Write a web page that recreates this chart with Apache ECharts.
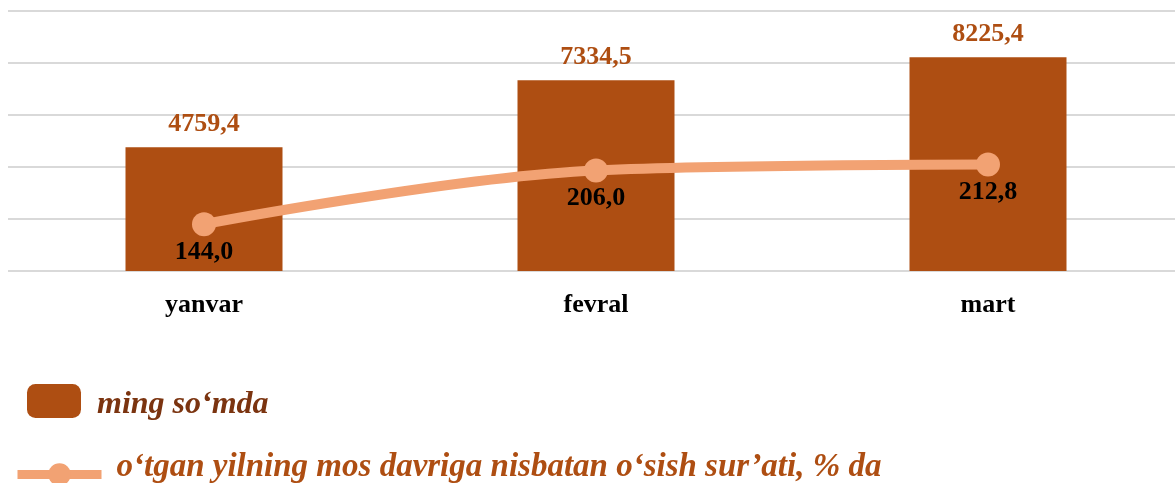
<!DOCTYPE html>
<html>
<head>
<meta charset="utf-8">
<script src="https://cdn.jsdelivr.net/npm/echarts@6/dist/echarts.min.js"></script>
<style>
html, body { margin: 0; padding: 0; background: #fff; overflow: hidden; }
#chart { width: 1184px; height: 483px; }
</style>
</head>
<body>
<div id="chart"></div>
<script>
var months = ['yanvar', 'fevral', 'mart'];
var amount = [4759.4, 7334.5, 8225.4];
var growth = [144.0, 206.0, 212.8];
var barName = 'ming so‘mda';
var lineName = 'o‘tgan yilning mos davriga nisbatan o‘sish sur’ati, % da';

function comma(v) {
	return v.toFixed(1).replace('.', ',');
}

var legendFont = {
	fontFamily: 'Liberation Serif',
	fontStyle: 'italic',
	fontWeight: 'bold'
};

var chart = echarts.init(document.getElementById('chart'));
var option = {
	animation: false,
	grid: {
		left: 8,
		top: 11,
		right: 0,
		height: 260
	},
	legend: [{
		data: [barName],
		left: 27,
		top: 384,
		padding: 0,
		itemWidth: 54,
		itemHeight: 34,
		icon: 'roundRect',
		formatter: '{t|{name}}',
		textStyle: {
			rich: {
				t: Object.assign({ fontSize: 32, color: '#7B3410', padding: [7, 0, 0, 11] }, legendFont)
			}
		}
	}, {
		data: [lineName],
		left: 13,
		top: 451,
		padding: 0,
		itemWidth: 84,
		itemHeight: 28,
		lineStyle: { width: 9 },
		formatter: '{t|{name}}',
		textStyle: {
			rich: {
				t: Object.assign({ fontSize: 33, color: '#AE4E12', padding: [0, 0, 14, 10] }, legendFont)
			}
		}
	}],
	xAxis: {
		type: 'category',
		data: months,
		axisLine: { show: false },
		axisTick: { show: false },
		axisLabel: {
			margin: 21,
			fontFamily: 'Liberation Serif',
			fontWeight: 'bold',
			fontSize: 26,
			color: '#000'
		}
	},
	yAxis: [{
		type: 'value',
		min: 0,
		max: 10000,
		interval: 2000,
		axisLabel: { show: false },
		axisLine: { show: false },
		axisTick: { show: false },
		splitLine: { lineStyle: { color: '#D9D9D9', width: 2 } }
	}, {
		type: 'value',
		min: 90,
		max: 390,
		show: false,
		splitLine: { show: false }
	}],
	series: [{
		name: barName,
		type: 'bar',
		data: amount,
		barWidth: 157,
		itemStyle: { color: '#AE4E12' },
		label: {
			show: true,
			position: 'top',
			distance: 10,
			formatter: function (p) { return comma(p.value); },
			fontFamily: 'Liberation Serif',
			fontWeight: 'bold',
			fontSize: 26,
			color: '#AE4E12'
		}
	}, {
		name: lineName,
		type: 'line',
		yAxisIndex: 1,
		data: growth,
		smooth: 0.35,
		symbol: 'circle',
		symbolSize: 24,
		itemStyle: { color: '#F2A273' },
		lineStyle: { color: '#F2A273', width: 10 },
		label: {
			show: true,
			position: 'bottom',
			distance: 3,
			formatter: function (p) { return comma(p.value); },
			fontFamily: 'Liberation Serif',
			fontWeight: 'bold',
			fontSize: 26,
			color: '#000'
		}
	}]
};
chart.setOption(option);
</script>
</body>
</html>
